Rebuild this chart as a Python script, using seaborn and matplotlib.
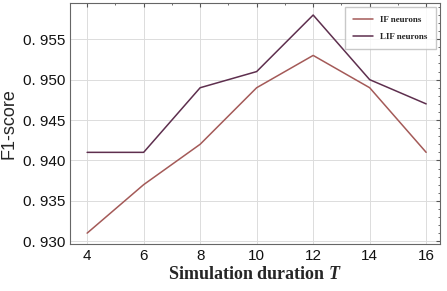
import matplotlib
matplotlib.use('Agg')

import matplotlib.pyplot as plt
import seaborn as sns
import pandas as pd
from matplotlib.ticker import AutoMinorLocator

durations = [4, 6, 8, 10, 12, 14, 16]
if_scores = [0.931, 0.937, 0.942, 0.949, 0.953, 0.949, 0.941]
lif_scores = [0.941, 0.941, 0.949, 0.951, 0.958, 0.950, 0.947]
series_names = ['IF neurons', 'LIF neurons']
yticks = [0.930, 0.935, 0.940, 0.945, 0.950, 0.955]
ytick_labels = ['0. 930', '0. 935', '0. 940', '0. 945', '0. 950', '0. 955']

df = pd.DataFrame({
    'T': durations * 2,
    'score': if_scores + lif_scores,
    'model': [series_names[0]] * len(durations) + [series_names[1]] * len(durations),
})

sns.set_style('white')
plt.rcParams['font.family'] = ['Liberation Sans', 'DejaVu Sans']
plt.rcParams['mathtext.fontset'] = 'custom'
plt.rcParams['mathtext.it'] = 'Liberation Serif:italic:bold'
plt.rcParams['mathtext.rm'] = 'Liberation Serif:bold'

fig, ax = plt.subplots(figsize=(4.47, 2.91), dpi=100)
sns.lineplot(data=df, x='T', y='score', hue='model',
             palette=['#a45a58', '#5e2f4e'], linewidth=1.1, ax=ax)

ax.set_xlim(3.4, 16.5)
ax.set_ylim(0.9296, 0.9595)
ax.set_xticks(durations)
ax.set_yticks(yticks)
ax.set_yticklabels(ytick_labels)
ax.xaxis.set_minor_locator(AutoMinorLocator(2))
ax.yaxis.set_minor_locator(AutoMinorLocator(5))
ax.tick_params(which='both', direction='in', top=True, right=True, labelsize=11,
               color='#555555', labelcolor='#111111')
ax.tick_params(which='major', length=3)
ax.tick_params(which='minor', length=1.5)
ax.grid(True, color='#dcdcdc', linewidth=0.7)
for s in ax.spines.values():
    s.set_color('#666666')
    s.set_linewidth(0.8)

ax.set_ylabel('F1-score', fontsize=13)
ax.set_xlabel('Simulation duration $T$', fontsize=13, family='Liberation Serif',
              fontweight='bold', labelpad=2)

leg = ax.legend(loc='upper right', prop={'family': 'Liberation Serif', 'weight': 'bold', 'size': 6.5},
                frameon=True, fancybox=False, edgecolor='#bbbbbb', handlelength=2.2,
                borderpad=0.9, labelspacing=1.0)
leg.set_title(None)

fig.subplots_adjust(left=0.157, right=0.985, top=0.99, bottom=0.16)
fig.savefig('out.png', dpi=100)
